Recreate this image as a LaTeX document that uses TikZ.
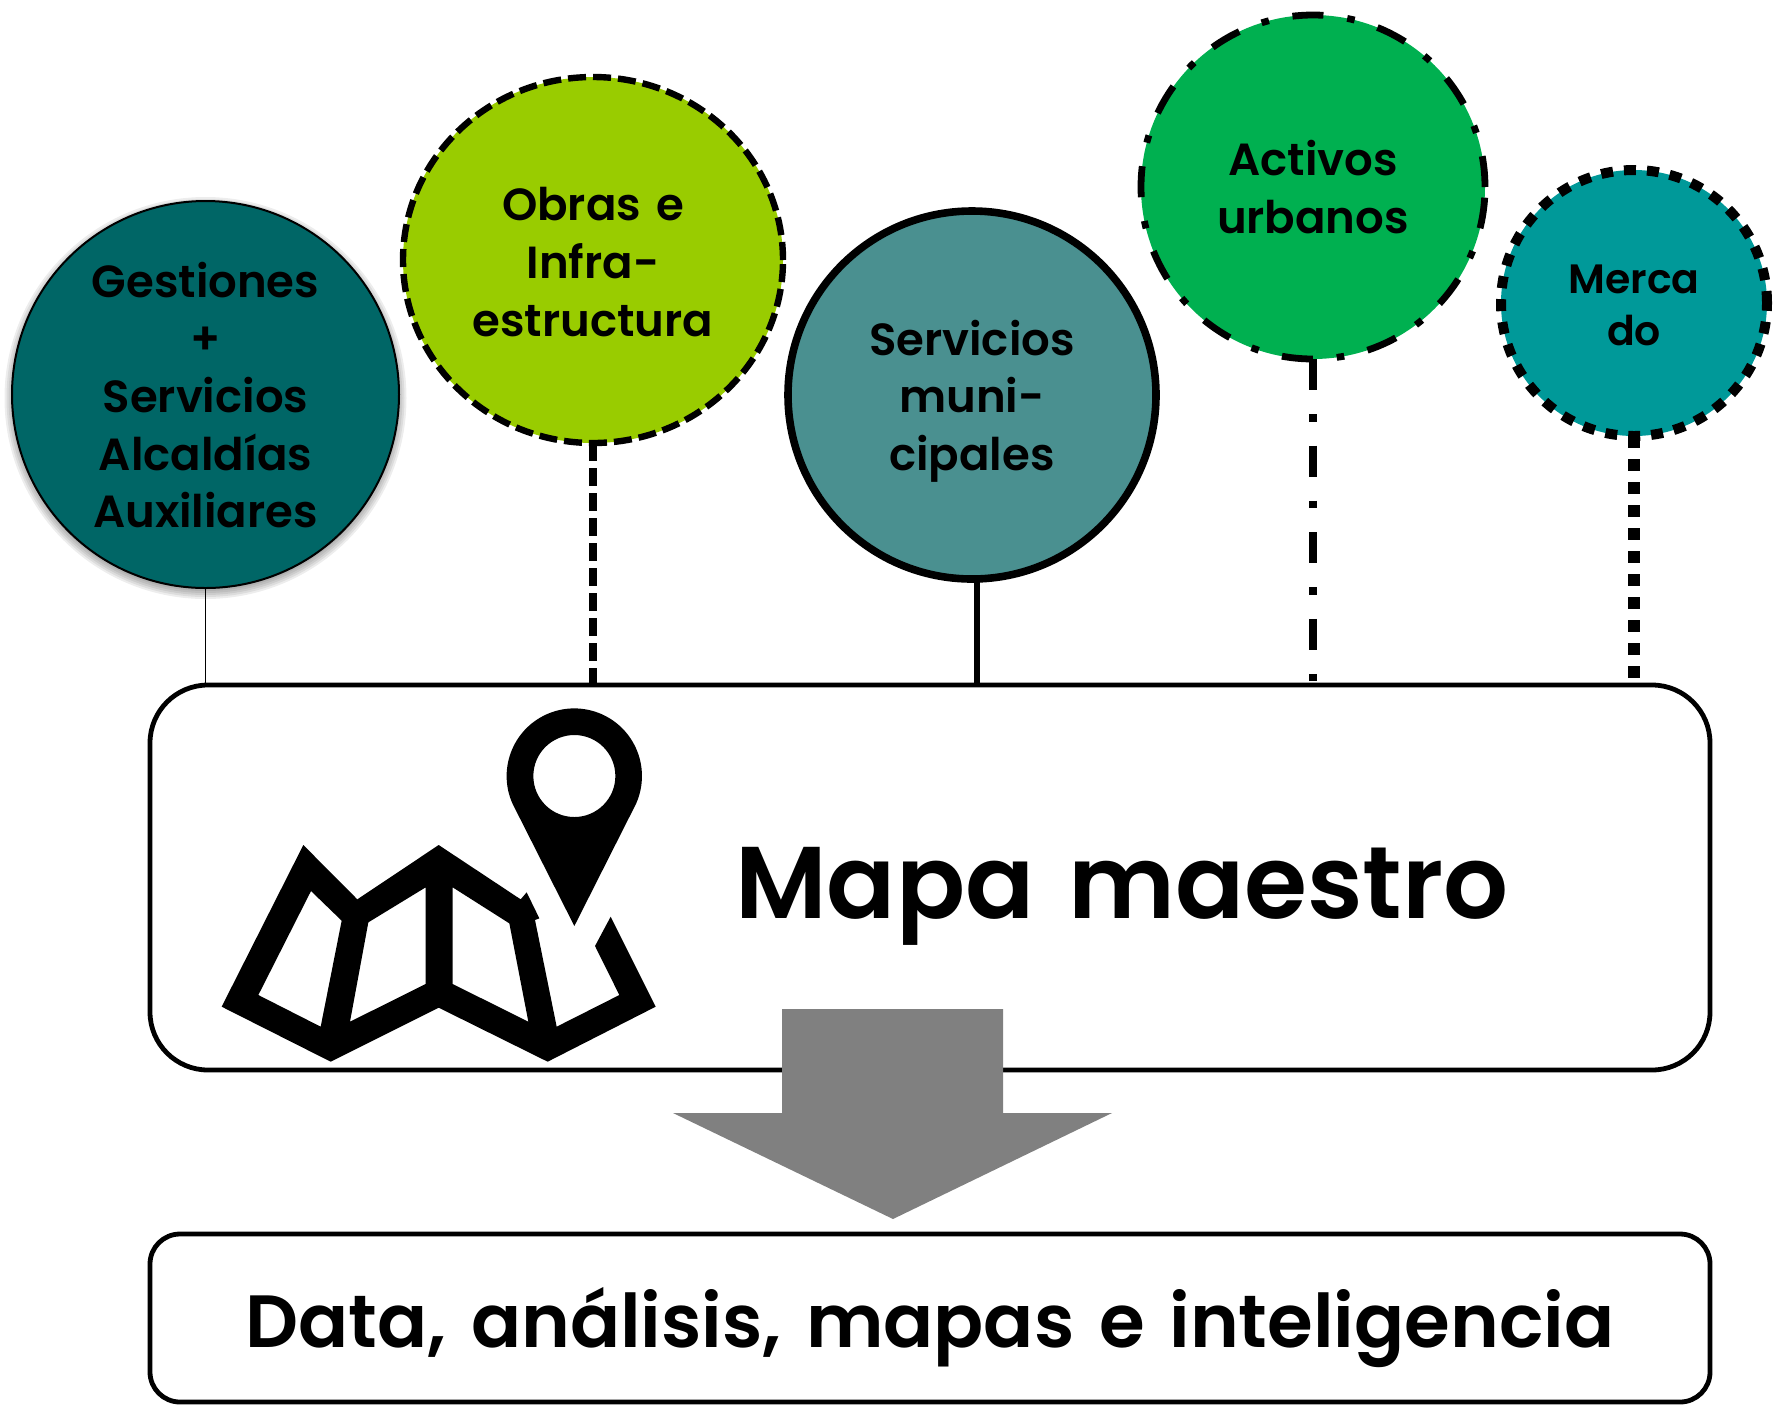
\documentclass[tikz,border=0pt]{standalone}
\usepackage{fontspec}
\setmainfont{Poppins}[BoldFont={Poppins SemiBold},WordSpace=1.4]
\usetikzlibrary{shapes.geometric}
\definecolor{cgest}{HTML}{006666}
\definecolor{cobra}{HTML}{99CC00}
\definecolor{cserv}{HTML}{4A9090}
\definecolor{cacti}{HTML}{00B050}
\definecolor{cmerc}{HTML}{009999}
\tikzset{
  ball/.style={ellipse,inner sep=0pt,outer sep=0pt},
  lbl/.style={align=center,inner sep=0pt,text=black},
  bigbox/.style={draw=black,line width=2.4pt,fill=white,inner sep=0pt,outer sep=0pt},
  dashobra/.style={dash pattern=on 9pt off 3.5pt},
  dashacti/.style={dash pattern=on 15.5pt off 12pt on 3.8pt off 12pt},
  dashmerc/.style={dash pattern=on 6pt off 5.5pt},
}
\begin{document}
\begin{tikzpicture}[x=0.5pt,y=-0.5pt]
\useasboundingbox (0,0) rectangle (1783,1404);
% boxes
\node[bigbox,rounded corners=29pt,minimum width=780pt,minimum height=192.5pt] (mapa) at (930,877.5) {};
\node[bigbox,rounded corners=15pt,minimum width=780pt,minimum height=84pt] (data) at (930,1318) {};
% shadow
\foreach \r in {201,199,...,181}{
  \fill[black,opacity=0.07] (205.5,398) circle[radius=\r*1];
}
% circles
\node[ball,fill=cgest,draw=black,line width=1pt,minimum width=193.5pt,minimum height=193.5pt] (gest) at (205.5,394.5) {};
\node[ball,fill=cobra,draw=black,line width=3.2pt,dashobra,minimum width=190pt,minimum height=183pt] (obra) at (593,260) {};
\node[ball,fill=cserv,draw=black,line width=3.8pt,minimum width=184pt,minimum height=184pt] (serv) at (972,395) {};
\node[ball,fill=cacti,draw=black,line width=3.4pt,dashacti,minimum width=172pt,minimum height=172pt] (acti) at (1313,187) {};
\node[ball,fill=cmerc,draw=black,line width=5pt,dashmerc,minimum width=133pt,minimum height=133pt] (merc) at (1634,303) {};
% connectors
\coordinate (servend) at (977,685);
\draw[line width=0.5pt] (gest.south) -- (gest.south |- mapa.north);
\draw[line width=4pt,dashobra] (obra.south) -- (obra.south |- mapa.north);
\draw[line width=3.4pt] (serv.south) ++(5,0) -- (servend);
\draw[line width=4pt,dashacti] (acti.south) -- (acti.south |- mapa.north);
\draw[line width=6pt,dashmerc] (merc.south) -- (merc.south |- mapa.north);
% labels
\node[lbl,font=\bfseries\fontsize{22.5}{28.8}\selectfont] (tgest) at (205.5,395) {Gestiones\\+\\Servicios\\Alcaldías\\Auxiliares};
\node[lbl,font=\bfseries\fontsize{22.5}{28.8}\selectfont] (tobra) at (593,262) {Obras e\\Infra-\\estructura};
\node[lbl,font=\bfseries\fontsize{22.5}{28.8}\selectfont] (tserv) at (972,401) {Servicios\\muni-\\cipales};
\node[lbl,font=\bfseries\fontsize{22.5}{28.8}\selectfont] (tacti) at (1313,187) {Activos\\urbanos};
\node[lbl,font=\bfseries\fontsize{20.5}{26}\selectfont] (tmerc) at (1634,305) {Merca\\do};
\node[lbl,font=\bfseries\fontsize{51}{60}\selectfont] (tmapa) at (1122,896) {Mapa maestro};
\node[lbl,font=\bfseries\fontsize{37}{46}\selectfont] (tdata) at (930,1328) {Data, análisis, mapas e inteligencia};
% map icon
\begin{scope}[shift={(200,690)},x=0.16667pt,y=-0.16667pt]
\fill[black,even odd rule]
 (65,950)--(310,465)--(472,628)--(716,465)--(962,628)--(980,607)--(1018,685)--(1005,690)--(1070,1010)--(1258,915)--(1185,768)--(1232,680)--(1367,950)--(1043,1115)--(716,953)--(392,1115)--cycle
 (175,915)--(333,603)--(425,692)--(362,1010)--cycle
 (505,697)--(677,592)--(677,882)--(450,995)--cycle
 (758,592)--(928,700)--(985,995)--(758,882)--cycle;
\fill[black,even odd rule]
 (1123,708)--(938,342) arc[start angle=155.6,end angle=384.4,radius=203]--cycle
 (1123,258) circle[radius=123];
\end{scope}
% arrow
\fill[black!50] (782,1009)--(1003,1009)--(1003,1113)--(1112,1113)--(893,1219)--(673,1113)--(782,1113)--cycle;
\end{tikzpicture}
\end{document}
